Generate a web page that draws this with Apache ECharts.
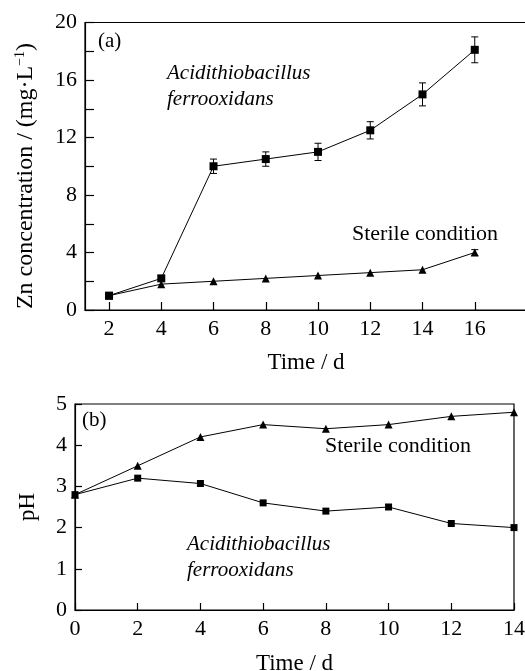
<!DOCTYPE html>
<html>
<head>
<meta charset="utf-8">
<script src="https://cdn.jsdelivr.net/npm/echarts@6/dist/echarts.min.js"></script>
<style>
html,body{margin:0;padding:0;background:#fff;}
#c{width:525px;height:671px;}
</style>
</head>
<body>
<div id="c"></div>
<script>
// Panel (a): Zn concentration vs time
const daysA = [2, 4, 6, 8, 10, 12, 14, 16];
const znBacteria = [1.0, 2.2, 10.0, 10.5, 11.0, 12.5, 15.0, 18.1];
const znBacteriaErr = [0.1, 0.2, 0.5, 0.5, 0.6, 0.6, 0.8, 0.9];
const znSterile = [1.0, 1.8, 2.0, 2.2, 2.4, 2.6, 2.8, 4.0];
const znSterileErr = [0, 0, 0, 0, 0, 0, 0, 0.2];
const ticksXA = [2, 4, 6, 8, 10, 12, 14, 16];
const labelsYA = [0, 4, 8, 12, 16, 20];

// Panel (b): pH vs time
const daysB = [0, 2, 4, 6, 8, 10, 12, 14];
const phBacteria = [2.8, 3.2, 3.07, 2.6, 2.4, 2.5, 2.1, 2.0];
const phSterile = [2.8, 3.5, 4.2, 4.5, 4.4, 4.5, 4.7, 4.8];

const FONT = '"Liberation Serif", "Times New Roman", serif';
const chart = echarts.init(document.getElementById('c'), null, {renderer: 'canvas'});

function pairs(xs, ys) { return xs.map((x, i) => [x, ys[i]]); }
function triples(xs, ys, es) { return xs.map((x, i) => [x, ys[i], es[i]]); }

function errRender(params, api) {
  const x = api.value(0), y = api.value(1), e = api.value(2);
  if (!e) return;
  const t = api.coord([x, y + e]);
  const b = api.coord([x, y - e]);
  const w = 3.5;
  const st = {stroke: '#000', lineWidth: 1};
  return {
    type: 'group',
    children: [
      {type: 'line', shape: {x1: t[0], y1: t[1], x2: b[0], y2: b[1]}, style: st},
      {type: 'line', shape: {x1: t[0] - w, y1: t[1], x2: t[0] + w, y2: t[1]}, style: st},
      {type: 'line', shape: {x1: b[0] - w, y1: b[1], x2: b[0] + w, y2: b[1]}, style: st}
    ]
  };
}

const axisLbl = {color: '#000', fontFamily: FONT, fontSize: 22};
const lineSt = {color: '#000', width: 1.2};

const option = {
  backgroundColor: '#fff',
  animation: false,
  grid: [
    {left: 85, top: 22.5, width: 442, height: 287.5, show: true, borderColor: '#000', borderWidth: 1.2,
     containLabel: false, outerBoundsMode: 'none'},
    {left: 75, top: 404, width: 439, height: 206, show: true, borderColor: '#000', borderWidth: 1.2,
     containLabel: false, outerBoundsMode: 'none'}
  ],
  xAxis: [
    {
      gridIndex: 0, type: 'value', min: 1.08, max: 18,
      axisLine: {show: true, lineStyle: lineSt},
      axisTick: {show: true, inside: true, length: 8, customValues: ticksXA, lineStyle: lineSt},
      axisLabel: Object.assign({margin: 8, customValues: ticksXA}, axisLbl),
      splitLine: {show: false},
      name: 'Time / d', nameLocation: 'middle', nameGap: 41,
      nameTextStyle: {color: '#000', fontFamily: FONT, fontSize: 23}
    },
    {
      gridIndex: 1, type: 'value', min: 0, max: 14, interval: 2,
      axisLine: {show: true, lineStyle: lineSt},
      axisTick: {show: true, inside: true, length: 7, lineStyle: lineSt},
      axisLabel: Object.assign({margin: 8}, axisLbl),
      splitLine: {show: false},
      name: 'Time / d', nameLocation: 'middle', nameGap: 42,
      nameTextStyle: {color: '#000', fontFamily: FONT, fontSize: 23}
    }
  ],
  yAxis: [
    {
      gridIndex: 0, type: 'value', min: 0, max: 20, interval: 2,
      axisLine: {show: true, lineStyle: lineSt},
      axisTick: {show: true, inside: true, length: 9, lineStyle: lineSt},
      axisLabel: Object.assign({margin: 8, customValues: labelsYA}, axisLbl),
      splitLine: {show: false}
    },
    {
      gridIndex: 1, type: 'value', min: 0, max: 5, interval: 1,
      axisLine: {show: true, lineStyle: lineSt},
      axisTick: {show: true, inside: true, length: 7, lineStyle: lineSt},
      axisLabel: Object.assign({margin: 8}, axisLbl),
      splitLine: {show: false},
      name: 'pH', nameLocation: 'middle', nameGap: 36,
      nameTextStyle: {color: '#000', fontFamily: FONT, fontSize: 23}
    }
  ],
  series: [
    {type: 'custom', xAxisIndex: 0, yAxisIndex: 0, renderItem: errRender, data: triples(daysA, znBacteria, znBacteriaErr), z: 1},
    {type: 'custom', xAxisIndex: 0, yAxisIndex: 0, renderItem: errRender, data: triples(daysA, znSterile, znSterileErr), z: 1},
    {type: 'line', xAxisIndex: 0, yAxisIndex: 0, data: pairs(daysA, znBacteria), symbol: 'rect', symbolSize: 8,
     itemStyle: {color: '#000'}, lineStyle: {color: '#000', width: 1}, z: 3},
    {type: 'line', xAxisIndex: 0, yAxisIndex: 0, data: pairs(daysA, znSterile), symbol: 'triangle', symbolSize: 8,
     itemStyle: {color: '#000'}, lineStyle: {color: '#000', width: 1}, z: 3},
    {type: 'line', xAxisIndex: 1, yAxisIndex: 1, data: pairs(daysB, phBacteria), symbol: 'rect', symbolSize: 7,
     itemStyle: {color: '#000'}, lineStyle: {color: '#000', width: 1}, z: 3},
    {type: 'line', xAxisIndex: 1, yAxisIndex: 1, data: pairs(daysB, phSterile), symbol: 'triangle', symbolSize: 8,
     itemStyle: {color: '#000'}, lineStyle: {color: '#000', width: 1}, z: 3}
  ],
  graphic: [
    {type: 'text', x: 26, y: 176, rotation: Math.PI / 2,
     style: {
       text: '{a|Zn concentration / (mg·L}{s|−1}{a|)}', align: 'center', verticalAlign: 'middle',
       rich: {
         a: {fill: '#000', fontFamily: FONT, fontSize: 24, lineHeight: 26},
         s: {fill: '#000', fontFamily: FONT, fontSize: 14, verticalAlign: 'top', lineHeight: 26, padding: [0, 0, 8, 0]}
       }
     }},
    {type: 'text', left: 98, top: 31, style: {text: '(a)', fill: '#000', font: '21px ' + FONT}},
    {type: 'text', left: 167, top: 60, style: {text: 'Acidithiobacillus\nferrooxidans', fill: '#000', font: 'italic 21px ' + FONT, lineHeight: 26}},
    {type: 'text', left: 352, top: 223, style: {text: 'Sterile condition', fill: '#000', font: '22px ' + FONT}},
    {type: 'text', left: 82, top: 410, style: {text: '(b)', fill: '#000', font: '21px ' + FONT}},
    {type: 'text', left: 325, top: 435, style: {text: 'Sterile condition', fill: '#000', font: '22px ' + FONT}},
    {type: 'text', left: 187, top: 531, style: {text: 'Acidithiobacillus\nferrooxidans', fill: '#000', font: 'italic 21px ' + FONT, lineHeight: 26}}
  ]
};
chart.setOption(option);
</script>
</body>
</html>
